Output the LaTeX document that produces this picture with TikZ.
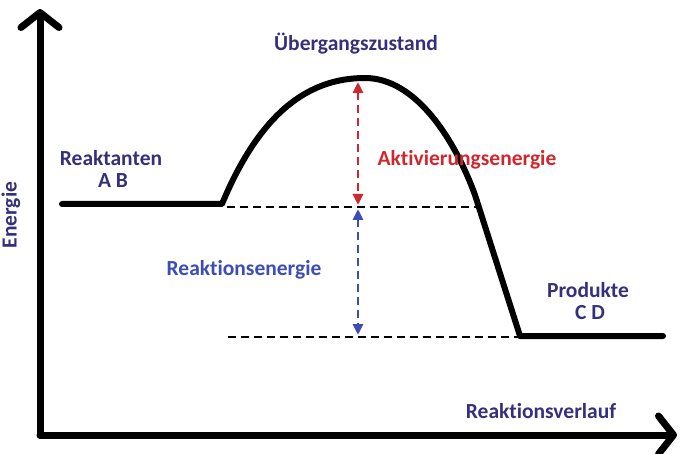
\documentclass[tikz,border=0pt]{standalone}
\usepackage{fontspec}
\setmainfont{Carlito}[RawFeature=-liga]
\usetikzlibrary{arrows.meta}
\definecolor{txtpurple}{HTML}{35307A}
\definecolor{actred}{HTML}{CE282E}
\definecolor{reblue}{HTML}{3D4DB5}
\tikzset{
  lbl/.style={font=\bfseries\fontsize{21.5}{24}\selectfont, text=txtpurple, inner sep=0pt},
  axis/.style={line width=7pt, -{Straight Barb[length=15pt,width=38pt,line width=7pt,round]}, line cap=round},
  energyline/.style={line width=6pt, line cap=round, line join=round},
  refline/.style={line width=1.6pt, dash pattern=on 8pt off 5pt},
  dblarrow/.style={line width=2.8pt, dash pattern=on 8pt off 5pt, {Triangle[length=11pt,width=10pt]}-{Triangle[length=11pt,width=10pt]}}
}
\begin{document}
\begin{tikzpicture}[x=1pt,y=-1pt]
\useasboundingbox (0,0) rectangle (685,454);
% axes
\coordinate (O) at (40,435);
\coordinate (Ytop) at (40,9);
\coordinate (Xend) at (677,435);
\draw[axis] (O) -- (Ytop);
\draw[axis] (O) -- (Xend);
% energy profile
\coordinate (R0) at (62,204);
\coordinate (R1) at (222,204);
\coordinate (TS) at (365,78);
\coordinate (K) at (475,195);
\coordinate (P0) at (520,336);
\coordinate (P1) at (663,336);
\draw[energyline] (R0) -- (R1) .. controls (262,108) and (312,78) .. (TS)
  .. controls (416,78) and (455,140) .. (K) -- (P0) -- (P1);
% reference dashed lines
\coordinate (D1a) at (227,207);
\coordinate (D1b) at (478,207);
\coordinate (D2a) at (228,337);
\coordinate (D2b) at (518,337);
\draw[refline] (D1a) -- (D1b);
\draw[refline] (D2a) -- (D2b);
% arrows
\coordinate (A1) at (358,82);
\coordinate (A2) at (358,205);
\coordinate (B1) at (358,209);
\coordinate (B2) at (358,335);
\draw[dblarrow, actred] (A1) -- (A2);
\draw[dblarrow, reblue] (B1) -- (B2);
% labels
\node[lbl] (ts) at (356,44) {Übergangszustand};
\node[lbl] (react) at (111,158) {Reaktanten};
\node[lbl] (ab) at (113,181) {A B};
\node[lbl, text=actred] (act) at (467,160) {Aktivierungsenergie};
\node[lbl, text=reblue] (rxn) at (244,270) {Reaktionsenergie};
\node[lbl] (prod) at (588,290) {Produkte};
\node[lbl] (cd) at (590,313) {C D};
\node[lbl] (xlab) at (541,411) {Reaktionsverlauf};
\node[lbl, rotate=90] (ylab) at (11,215) {Energie};
\end{tikzpicture}
\end{document}
